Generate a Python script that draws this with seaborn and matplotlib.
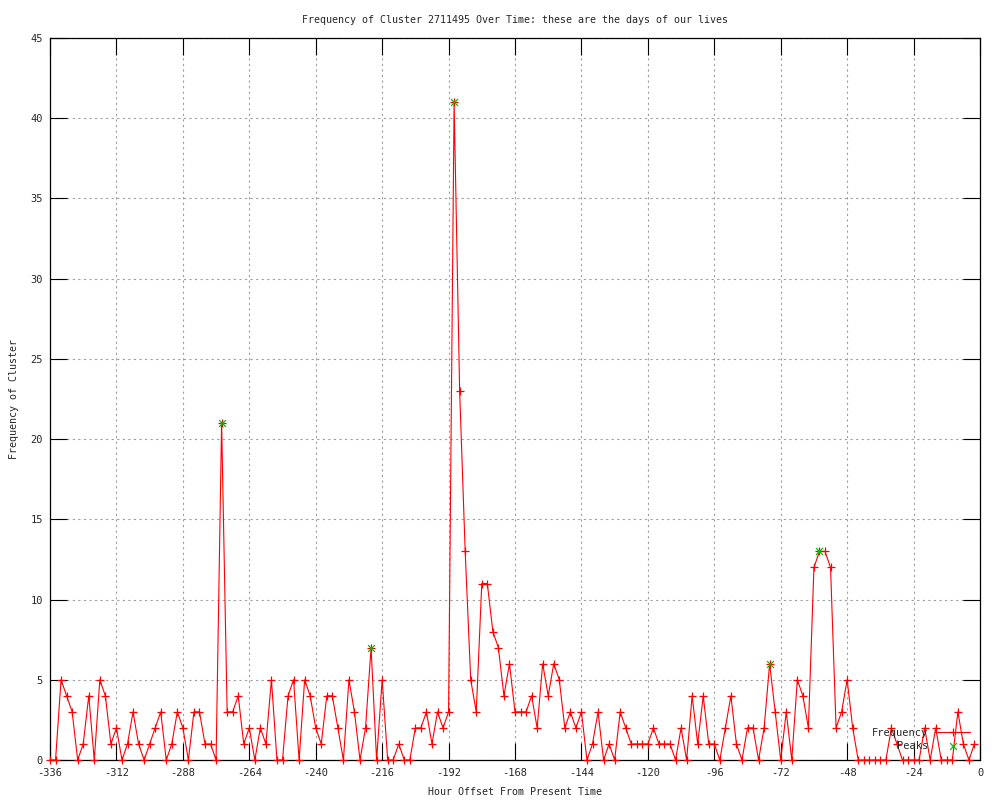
import numpy as np
import pandas as pd
import seaborn as sns
import matplotlib
matplotlib.use("Agg")
import matplotlib.pyplot as plt

# horas (de 2 em 2) e frequencia
hours = list(range(-336, 0, 2))
freq = [0, 0, 5, 4, 3, 0, 1, 4, 0, 5, 4, 1, 2, 0, 1, 3, 1, 0, 1, 2,
        3, 0, 1, 3, 2, 0, 3, 3, 1, 1, 0, 21, 3, 3, 4, 1, 2, 0, 2, 1,
        5, 0, 0, 4, 5, 0, 5, 4, 2, 1, 4, 4, 2, 0, 5, 3, 0, 2, 7, 0,
        5, 0, 0, 1, 0, 0, 2, 2, 3, 1, 3, 2, 3, 41, 23, 13, 5, 3, 11, 11,
        8, 7, 4, 6, 3, 3, 3, 4, 2, 6, 4, 6, 5, 2, 3, 2, 3, 0, 1, 3,
        0, 1, 0, 3, 2, 1, 1, 1, 1, 2, 1, 1, 1, 0, 2, 0, 4, 1, 4, 1,
        1, 0, 2, 4, 1, 0, 2, 2, 0, 2, 6, 3, 0, 3, 0, 5, 4, 2, 12, 13,
        13, 12, 2, 3, 5, 2, 0, 0, 0, 0, 0, 0, 2, 1, 0, 0, 0, 0, 2, 0,
        2, 0, 0, 0, 3, 1, 0, 1]

# picos marcados a verde
peak_hours = [-274, -220, -190, -76, -58]
peak_values = [21, 7, 41, 6, 13]

x_ticks = list(range(-336, 1, 24))
y_ticks = list(range(0, 46, 5))

titulo = "Frequency of Cluster 2711495 Over Time: these are the days of our lives"

sns.set_theme(style="white")
plt.rcParams['font.family'] = ['DejaVu Sans Mono']
plt.rcParams['axes.unicode_minus'] = False

df = pd.DataFrame({"hour": hours, "freq": freq})
df_peaks = pd.DataFrame({"hour": peak_hours, "freq": peak_values})

fig = plt.figure(figsize=(10, 8), dpi=100)
ax = fig.add_axes([0.05, 0.05, 0.93, 0.9025])

sns.lineplot(data=df, x="hour", y="freq", color="#ff0000", linewidth=0.8,
             marker="+", markersize=6, markeredgewidth=0.9,
             markeredgecolor="#ff0000", label="Frequency", ax=ax, zorder=3)
ax.lines[-1].set_clip_on(False)

sns.scatterplot(data=df_peaks, x="hour", y="freq", marker="x", s=24,
                color="#00c000", linewidth=0.9, label="Peaks", ax=ax, zorder=4)

ax.set_xlim(-336, 0)
ax.set_ylim(0, 45)
ax.set_xticks(x_ticks)
ax.set_yticks(y_ticks)
ax.tick_params(axis="both", direction="in", length=12, width=0.8, color="black",
               labelsize=7.5, top=True, right=True, bottom=True, left=True)
ax.tick_params(axis="x", pad=6)
ax.tick_params(axis="y", pad=5)
ax.grid(True, color="#a0a0a0", linestyle=(0, (2, 3)), linewidth=0.8)

for s in ax.spines.values():
    s.set_color("black")
    s.set_linewidth(0.9)

ax.set_title(titulo, fontsize=7.2, pad=11)
ax.set_xlabel("Hour Offset From Present Time", fontsize=7.2)
ax.set_ylabel("Frequency of Cluster", fontsize=7.2)
ax.xaxis.set_label_coords(0.5, -0.038)
ax.yaxis.set_label_coords(-0.033, 0.5)

ax.legend(loc="lower right", bbox_to_anchor=(0.989, 0.0125), frameon=False,
          markerfirst=False, fontsize=7.5, borderaxespad=0, borderpad=0,
          handlelength=3.3, handletextpad=0.7, labelspacing=0.3)

plt.savefig("out.png", dpi=100)
